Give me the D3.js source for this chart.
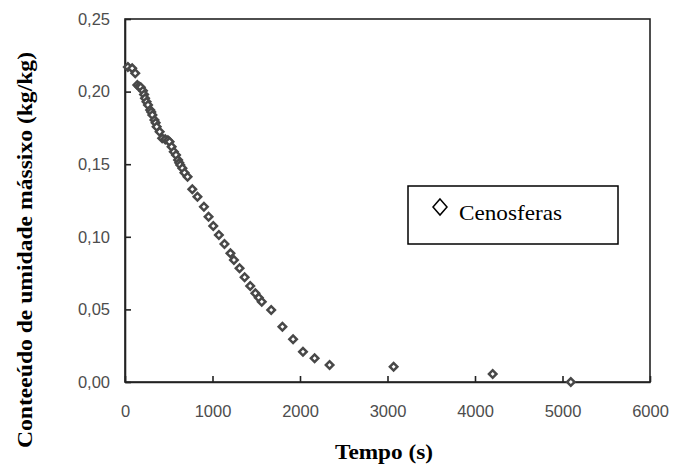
<!DOCTYPE html>
<html>
<head>
<meta charset="utf-8">
<script src="https://cdn.jsdelivr.net/npm/d3@7/dist/d3.min.js"></script>
<style>
  html, body { margin: 0; padding: 0; background: #fff; }
  svg { display: block; }
</style>
</head>
<body>
<svg id="chart" width="673" height="466"></svg>
<script>
// ---- data ----
const timeS = [33, 82, 117, 141, 160, 180, 205, 218, 229, 246, 263, 288, 300, 313, 337, 350, 362, 396, 425, 460, 490, 509, 533, 558, 583, 607, 620, 632, 656, 680, 715, 769, 828, 902, 955, 1009, 1073, 1137, 1205, 1245, 1309, 1367, 1431, 1490, 1529, 1563, 1671, 1799, 1921, 2034, 2167, 2338, 3070, 4202, 5095];
const moisture = [0.217, 0.216, 0.2126, 0.2045, 0.2035, 0.203, 0.2006, 0.198, 0.1954, 0.193, 0.1908, 0.1873, 0.186, 0.1839, 0.1804, 0.1785, 0.1758, 0.1724, 0.1678, 0.1671, 0.1665, 0.1655, 0.162, 0.1586, 0.1563, 0.1529, 0.151, 0.1494, 0.1472, 0.1441, 0.1414, 0.1327, 0.1276, 0.1207, 0.1138, 0.1074, 0.1012, 0.095, 0.0886, 0.084, 0.0783, 0.0721, 0.0661, 0.0611, 0.0581, 0.0553, 0.0496, 0.0381, 0.0294, 0.0209, 0.0163, 0.0117, 0.0105, 0.0055, 0.0];
const xTicks = [0, 1000, 2000, 3000, 4000, 5000, 6000];
const yTicks = [0, 0.05, 0.10, 0.15, 0.20, 0.25];
const xLabel = "Tempo (s)";
const yLabel = "Conteeúdo de umidade mássixo (kg/kg)";
const seriesName = "Cenosferas";

const svg = d3.select("#chart");
const plot = { left: 125, right: 650, top: 19, bottom: 382 };

const x = d3.scaleLinear().domain([0, 6000]).range([plot.left, plot.right]);
const y = d3.scaleLinear().domain([0, 0.25]).range([plot.bottom, plot.top]);

const fmtY = v => d3.format(".2f")(v).replace(".", ",");

// frame
svg.append("rect")
  .attr("x", plot.left).attr("y", plot.top)
  .attr("width", plot.right - plot.left).attr("height", plot.bottom - plot.top)
  .attr("fill", "none").attr("stroke", "#222").attr("stroke-width", 1.6);

// x axis (ticks inward)
const xAxis = svg.append("g")
  .attr("transform", `translate(0,${plot.bottom})`)
  .call(d3.axisBottom(x).tickValues(xTicks).tickSizeInner(-6).tickSizeOuter(0).tickPadding(23).tickFormat(d3.format("d")));
xAxis.select(".domain").attr("stroke", "#222").attr("stroke-width", 1.6);
xAxis.selectAll(".tick line").attr("stroke", "#222").attr("stroke-width", 1.6);
xAxis.selectAll(".tick text")
  .attr("font-family", "'Liberation Sans', Arial, sans-serif")
  .attr("font-size", 16.5).attr("fill", "#4d4d4d");

// y axis (ticks inward)
const yAxis = svg.append("g")
  .attr("transform", `translate(${plot.left},0)`)
  .call(d3.axisLeft(y).tickValues(yTicks).tickSizeInner(-6).tickSizeOuter(0).tickPadding(15).tickFormat(fmtY));
yAxis.select(".domain").attr("stroke", "#222").attr("stroke-width", 1.6);
yAxis.selectAll(".tick line").attr("stroke", "#222").attr("stroke-width", 1.6);
yAxis.selectAll(".tick text")
  .attr("font-family", "'Liberation Sans', Arial, sans-serif")
  .attr("font-size", 16.5).attr("fill", "#4d4d4d");

// points
const pts = timeS.map((t, i) => ({ t, v: moisture[i] }));
svg.append("g").selectAll("path")
  .data(pts).enter().append("path")
  .attr("transform", d => `translate(${x(d.t)},${y(d.v)}) rotate(45)`)
  .attr("d", d3.symbol().type(d3.symbolSquare).size(28))
  .attr("fill", "#fff").attr("stroke", "#484848").attr("stroke-width", 2.5);

// axis titles
svg.append("text")
  .attr("x", 384).attr("y", 459)
  .attr("text-anchor", "middle")
  .attr("font-family", "'Liberation Serif', 'Times New Roman', serif")
  .attr("font-weight", "bold").attr("font-size", 20)
  .attr("textLength", 98).attr("lengthAdjust", "spacingAndGlyphs")
  .text(xLabel);

svg.append("text")
  .attr("transform", "translate(32,250) rotate(-90)")
  .attr("text-anchor", "middle")
  .attr("font-family", "'Liberation Serif', 'Times New Roman', serif")
  .attr("font-weight", "bold").attr("font-size", 21.5)
  .attr("textLength", 396).attr("lengthAdjust", "spacingAndGlyphs")
  .text(yLabel);

// legend
const lg = svg.append("g");
lg.append("rect")
  .attr("x", 408).attr("y", 186).attr("width", 210).attr("height", 58)
  .attr("fill", "#fff").attr("stroke", "#000").attr("stroke-width", 1.5);
lg.append("path")
  .attr("d", "M440,199 L447,207 L440,215 L433,207 Z")
  .attr("fill", "#fff").attr("stroke", "#000").attr("stroke-width", 1.5);
lg.append("text")
  .attr("x", 459).attr("y", 220)
  .attr("font-family", "'Liberation Serif', 'Times New Roman', serif")
  .attr("font-size", 22)
  .attr("textLength", 103).attr("lengthAdjust", "spacingAndGlyphs")
  .text(seriesName);
</script>
</body>
</html>
